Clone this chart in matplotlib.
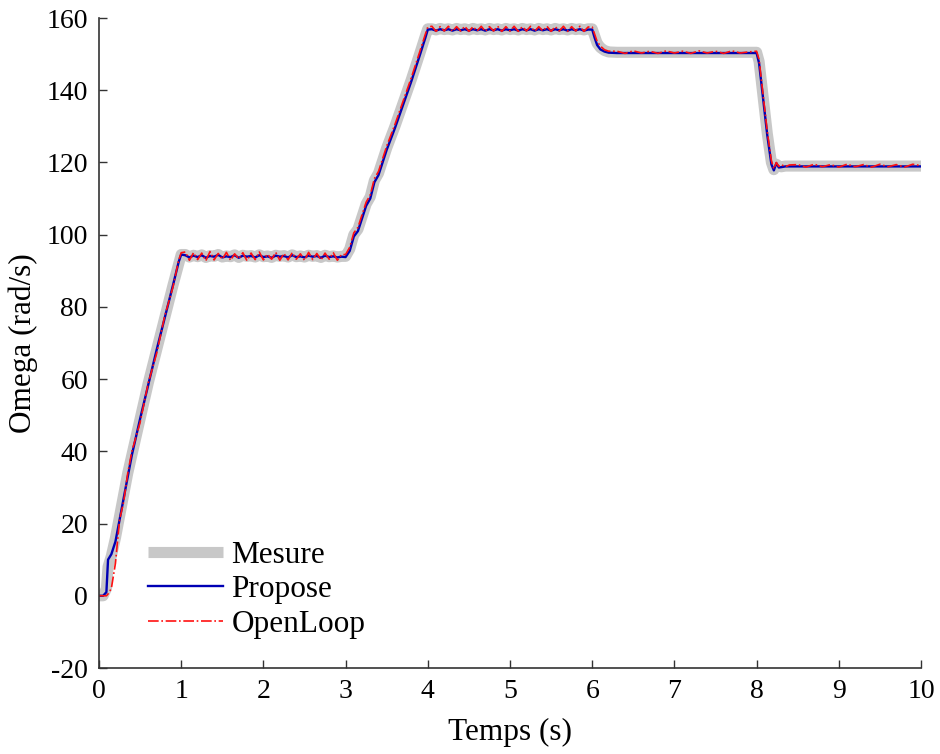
import numpy as np
import matplotlib
matplotlib.use("Agg")
import matplotlib.pyplot as plt

# ---------------- data ----------------
# segment 1: start-up ramp
t_ramp1 = [0.0, 0.05, 0.09, 0.11, 0.15, 0.2, 0.25, 0.3, 0.35, 0.4, 0.5, 0.6, 0.7, 0.8, 0.9, 0.97, 1.0]
mes_ramp1 = [0.0, 0.0, 2.0, 8.0, 11.0, 16.0, 22.0, 28.0, 34.0, 39.0, 49.0, 59.0, 68.0, 77.0, 86.0, 92.0, 94.5]
pro_ramp1 = [0.0, 0.0, 1.0, 10.0, 11.5, 15.0, 21.0, 27.0, 33.0, 39.0, 49.0, 58.5, 68.0, 77.0, 86.0, 92.5, 94.5]
opl_ramp1 = [0.0, 0.0, 0.0, 0.5, 2.0, 9.0, 21.0, 26.0, 34.0, 40.0, 48.0, 59.0, 67.0, 77.5, 85.5, 93.0, 95.0]

# segment 2: first plateau (1.05 .. 2.95 s)
mes_plat1 = [94.5, 93.8, 94.3, 93.9, 94.4, 93.7, 94.2, 94.0, 94.5, 93.8, 94.1, 93.9, 94.4, 93.7,
             94.3, 94.0, 94.2, 93.8, 94.4, 93.9, 94.1, 93.7, 94.3, 94.0, 94.2, 93.8, 94.4, 93.9,
             94.1, 93.8, 94.3, 94.0, 94.2, 93.7, 94.3, 93.9, 94.1, 93.8, 94.0]
pro_plat1 = [94.3, 93.7, 94.2, 93.8, 94.3, 93.6, 94.1, 93.9, 94.4, 93.7, 94.0, 93.8, 94.3, 93.6,
             94.2, 93.9, 94.1, 93.7, 94.3, 93.8, 94.0, 93.6, 94.2, 93.9, 94.1, 93.7, 94.3, 93.8,
             94.0, 93.7, 94.2, 93.9, 94.1, 93.6, 94.2, 93.8, 94.0, 93.7, 93.9]
opl_plat1 = [95.2, 92.9, 95.0, 93.1, 94.9, 92.8, 95.3, 93.0, 94.8, 93.2, 95.1, 92.9, 94.7, 93.3,
             95.0, 92.8, 94.9, 93.1, 95.2, 93.0, 94.6, 93.2, 95.1, 92.9, 94.8, 93.0, 95.0, 93.2,
             94.7, 92.9, 95.1, 93.1, 94.8, 93.0, 94.9, 93.2, 95.0, 92.9, 94.5]

# segment 3: second ramp
t_ramp2 = [3.0, 3.05, 3.1, 3.15, 3.2, 3.25, 3.3, 3.35, 3.4, 3.5, 3.6, 3.7, 3.8, 3.9, 3.97, 4.0]
mes_ramp2 = [94.0, 96.0, 100.0, 101.5, 105.0, 108.5, 110.5, 115.0, 117.0, 124.0, 130.0, 136.5, 143.0, 150.0, 155.0, 157.0]
pro_ramp2 = [93.8, 95.5, 99.5, 101.0, 104.5, 108.0, 110.0, 114.5, 116.5, 123.5, 129.5, 136.0, 142.5, 149.5, 154.5, 156.8]
opl_ramp2 = [94.5, 96.5, 100.5, 102.0, 105.5, 109.0, 111.0, 115.5, 117.5, 124.5, 130.5, 137.0, 143.5, 150.5, 155.5, 157.5]

# segment 4: top plateau (4.05 .. 5.95 s)
mes_plat2 = [157.0, 156.7, 157.1, 156.8, 157.0, 156.7, 157.1, 156.8, 157.0, 156.7, 157.1, 156.8, 157.0,
             156.7, 157.1, 156.8, 157.0, 156.7, 157.1, 156.8, 157.0, 156.7, 157.1, 156.8, 157.0, 156.7,
             157.1, 156.8, 157.0, 156.7, 157.1, 156.8, 157.0, 156.7, 157.1, 156.8, 157.0, 156.7, 157.0]
pro_plat2 = [156.9, 156.5, 156.9, 156.6, 156.9, 156.5, 156.9, 156.6, 156.9, 156.5, 156.9, 156.6, 156.9,
             156.5, 156.9, 156.6, 156.9, 156.5, 156.9, 156.6, 156.9, 156.5, 156.9, 156.6, 156.9, 156.5,
             156.9, 156.6, 156.9, 156.5, 156.9, 156.6, 156.9, 156.5, 156.9, 156.6, 156.9, 156.5, 156.8]
opl_plat2 = [157.7, 156.3, 157.6, 156.4, 157.7, 156.3, 157.6, 156.4, 157.7, 156.3, 157.6, 156.4, 157.7,
             156.3, 157.6, 156.4, 157.7, 156.3, 157.6, 156.4, 157.7, 156.3, 157.6, 156.4, 157.7, 156.3,
             157.6, 156.4, 157.7, 156.3, 157.6, 156.4, 157.7, 156.3, 157.6, 156.4, 157.7, 156.3, 157.5]

# segment 5: small step down
t_step1 = [6.0, 6.03, 6.06, 6.1, 6.15, 6.2]
mes_step1 = [157.0, 155.0, 153.0, 151.8, 151.0, 150.6]
pro_step1 = [156.8, 154.5, 152.5, 151.3, 150.7, 150.4]
opl_step1 = [157.5, 155.5, 153.5, 152.2, 151.2, 150.8]

# segment 6: plateau (6.3 .. 7.9 s)
mes_plat3 = [150.5, 150.5, 150.5, 150.5, 150.5, 150.5, 150.5, 150.5, 150.5,
             150.5, 150.5, 150.5, 150.5, 150.5, 150.5, 150.5, 150.5]
pro_plat3 = [150.3, 150.3, 150.3, 150.3, 150.3, 150.3, 150.3, 150.3, 150.3,
             150.3, 150.3, 150.3, 150.3, 150.3, 150.3, 150.3, 150.3]
opl_plat3 = [150.8, 150.2, 150.9, 150.3, 150.8, 150.2, 150.9, 150.3, 150.8,
             150.2, 150.9, 150.3, 150.8, 150.2, 150.9, 150.3, 150.6]

# segment 7: big step down
t_step2 = [8.0, 8.03, 8.08, 8.13, 8.18, 8.21, 8.24, 8.27, 8.3, 8.35, 8.4]
mes_step2 = [150.5, 148.0, 138.0, 128.0, 120.0, 118.0, 119.5, 119.0, 118.8, 119.0, 119.0]
pro_step2 = [150.3, 147.5, 137.5, 127.5, 119.5, 117.8, 119.8, 118.6, 118.7, 118.9, 118.9]
opl_step2 = [150.8, 148.5, 138.5, 128.5, 120.5, 118.2, 120.0, 118.9, 119.4, 118.8, 119.3]

# segment 8: final plateau (8.5 .. 10 s)
mes_plat4 = [119.0, 119.0, 119.0, 119.0, 119.0, 119.0, 119.0, 119.0,
             119.0, 119.0, 119.0, 119.0, 119.0, 119.0, 119.0, 119.0]
pro_plat4 = [118.9, 118.9, 118.9, 118.9, 118.9, 118.9, 118.9, 118.9,
             118.9, 118.9, 118.9, 118.9, 118.9, 118.9, 118.9, 118.9]
opl_plat4 = [119.4, 118.7, 119.5, 118.8, 119.4, 118.7, 119.5, 118.8,
             119.4, 118.7, 119.5, 118.8, 119.4, 118.7, 119.5, 119.1]

labels = ["Mesure", "Propose", "OpenLoop"]
xticks = [0, 1, 2, 3, 4, 5, 6, 7, 8, 9, 10]
yticks = [-20, 0, 20, 40, 60, 80, 100, 120, 140, 160]

# sample times of the uniformly sampled plateaus
t_plat1 = np.linspace(1.05, 2.95, len(mes_plat1))
t_plat2 = np.linspace(4.05, 5.95, len(mes_plat2))
t_plat3 = np.linspace(6.3, 7.9, len(mes_plat3))
t_plat4 = np.linspace(8.5, 10.0, len(mes_plat4))

t = np.concatenate([t_ramp1, t_plat1, t_ramp2, t_plat2, t_step1, t_plat3, t_step2, t_plat4])
mes = np.concatenate([mes_ramp1, mes_plat1, mes_ramp2, mes_plat2, mes_step1, mes_plat3, mes_step2, mes_plat4])
pro = np.concatenate([pro_ramp1, pro_plat1, pro_ramp2, pro_plat2, pro_step1, pro_plat3, pro_step2, pro_plat4])
opl = np.concatenate([opl_ramp1, opl_plat1, opl_ramp2, opl_plat2, opl_step1, opl_plat3, opl_step2, opl_plat4])

# ---------------- plot ----------------
plt.rcParams['font.family'] = ['Liberation Serif', 'DejaVu Serif']

fig = plt.figure(figsize=(9.4, 7.54), dpi=100)
ax = fig.add_axes([99 / 940, 1 - 668 / 754, 822 / 940, 650 / 754])

ax.plot(t, mes, color='#c8c8c8', lw=8, solid_capstyle='butt', solid_joinstyle='round', label=labels[0])
ax.plot(t, pro, color='#0000b4', lw=1.7, label=labels[1])
ax.plot(t, opl, color='#ff1010', lw=1.2, ls='-.', label=labels[2])

ax.set_xlim(0, 10)
ax.set_ylim(-20, 160)
ax.set_xticks(xticks)
ax.set_yticks(yticks)
ax.set_xticklabels([str(v) for v in xticks])
ax.set_yticklabels([str(v) for v in yticks])

for s in ['top', 'right']:
    ax.spines[s].set_visible(False)
for s in ['left', 'bottom']:
    ax.spines[s].set_color('#333333')
    ax.spines[s].set_linewidth(1.2)
ax.tick_params(direction='in', length=6, width=1.0, color='#333333', labelsize=20, pad=8)

ax.set_xlabel('Temps (s)', fontsize=22.5, labelpad=10)
ax.set_ylabel('Omega (rad/s)', fontsize=22.5, labelpad=6)

leg = ax.legend(loc='lower left', bbox_to_anchor=(0.045, 0.026), frameon=False, fontsize=22.5,
                handlelength=2.4, handletextpad=0.25, labelspacing=0.17, borderaxespad=0)

fig.savefig('out.png', dpi=100)
